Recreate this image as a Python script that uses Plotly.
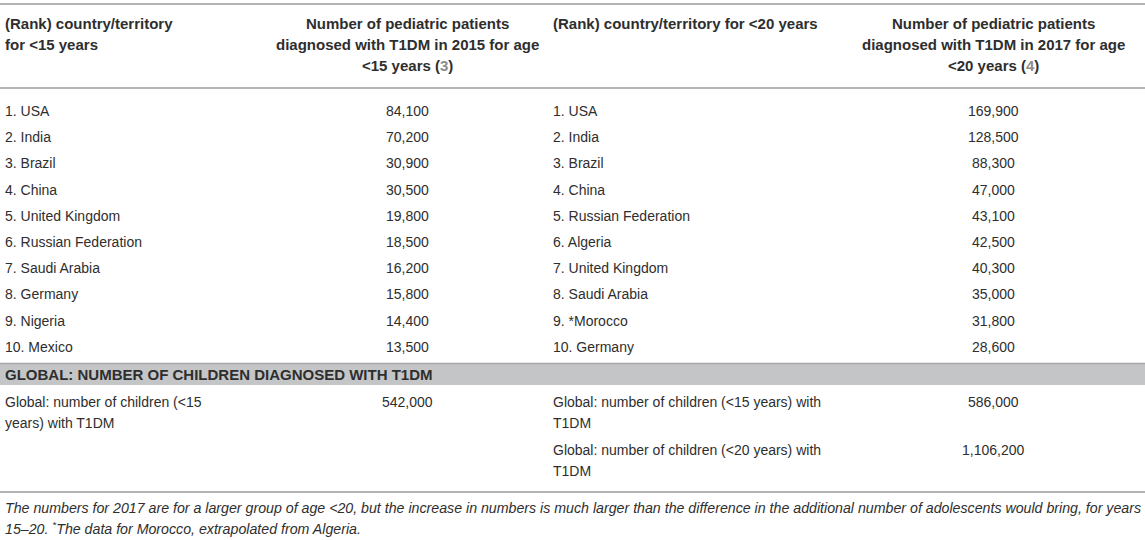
import plotly.graph_objects as go

# table data
countries_2015 = ["USA", "India", "Brazil", "China", "United Kingdom", "Russian Federation",
                  "Saudi Arabia", "Germany", "Nigeria", "Mexico"]
counts_2015 = [84100, 70200, 30900, 30500, 19800, 18500, 16200, 15800, 14400, 13500]

countries_2017 = ["USA", "India", "Brazil", "China", "Russian Federation", "Algeria",
                  "United Kingdom", "Saudi Arabia", "*Morocco", "Germany"]
counts_2017 = [169900, 128500, 88300, 47000, 43100, 42500, 40300, 35000, 31800, 28600]

header_left = ["(Rank) country/territory", "for &lt;15 years"]
header_num_left = ["Number of pediatric patients", "diagnosed with T1DM in 2015 for age",
                   "&lt;15 years (<span style='color:#8c8c8c'>3</span>)"]
header_right = ["(Rank) country/territory for &lt;20 years"]
header_num_right = ["Number of pediatric patients", "diagnosed with T1DM in 2017 for age",
                    "&lt;20 years (<span style='color:#8c8c8c'>4</span>)"]

band_title = "GLOBAL: NUMBER OF CHILDREN DIAGNOSED WITH T1DM"
global_left_label = ["Global: number of children (&lt;15", "years) with T1DM"]
global_left_value = 542000
global_right_labels = [["Global: number of children (&lt;15 years) with", "T1DM"],
                       ["Global: number of children (&lt;20 years) with", "T1DM"]]
global_right_values = [586000, 1106200]

footnote = ["The numbers for 2017 are for a larger group of age &lt;20, but the increase in numbers is much "
            "larger than the difference in the additional number of adolescents would bring, for years",
            "15–20. <sup>*</sup>The data for Morocco, extrapolated from Algeria."]

W, H = 1145, 540
TXT = "#2e2e2e"
LINE = "#b4b4b4"
x_c1, x_c2, x_c3, x_c4 = 4, 407, 552, 993

fig = go.Figure()
fig.add_trace(go.Scatter(x=[0, W], y=[0, H], mode="markers", marker=dict(opacity=0, size=1),
                         hoverinfo="skip", showlegend=False))

ann = []


def txt(x, y, s, anchor="left", bold=False, italic=False, size=14):
    if bold:
        s = "<b>" + s + "</b>"
    if italic:
        s = "<i>" + s + "</i>"
    ann.append(dict(x=x, y=y, xref="x", yref="y", text=s, showarrow=False,
                    xanchor=anchor, yanchor="middle", align=anchor, borderpad=0,
                    font=dict(size=size, color=TXT)))


# header
hy = [23, 44, 65]
for i, s in enumerate(header_left):
    txt(x_c1, hy[i], s, bold=True, size=15)
for i, s in enumerate(header_num_left):
    txt(x_c2, hy[i], s, anchor="center", bold=True, size=15)
for i, s in enumerate(header_right):
    txt(x_c3, hy[i], s, bold=True, size=15)
for i, s in enumerate(header_num_right):
    txt(x_c4, hy[i], s, anchor="center", bold=True, size=15)

# ranked rows
for i in range(len(countries_2015)):
    y = 111 + 26.2 * i
    txt(x_c1, y, f"{i + 1}. {countries_2015[i]}")
    txt(x_c2, y, f"{counts_2015[i]:,}", anchor="center")
    txt(x_c3, y, f"{i + 1}. {countries_2017[i]}")
    txt(x_c4, y, f"{counts_2017[i]:,}", anchor="center")

# global band and rows
txt(x_c1, 374, band_title, bold=True, size=15)
for j, s in enumerate(global_left_label):
    txt(x_c1, 402 + 21 * j, s)
txt(x_c2, 402, f"{global_left_value:,}", anchor="center")
for k, lab in enumerate(global_right_labels):
    y0 = 402 + 48 * k
    for j, s in enumerate(lab):
        txt(x_c3, y0 + 21 * j, s)
    txt(x_c4, y0, f"{global_right_values[k]:,}", anchor="center")

# footnote
for j, s in enumerate(footnote):
    txt(x_c1, 508 + 20 * j, s, italic=True, size=14.2)

shapes = [
    dict(type="rect", x0=0, x1=W, y0=363, y1=385, xref="x", yref="y",
         fillcolor="#c4c5c7", line=dict(width=0), layer="below"),
    dict(type="line", x0=0, x1=W, y0=363.5, y1=363.5, xref="x", yref="y",
         line=dict(color="#a8a8a8", width=1.5)),
]
for yl in [4, 88, 492]:
    shapes.append(dict(type="line", x0=0, x1=W, y0=yl, y1=yl, xref="x", yref="y",
                       line=dict(color=LINE, width=2)))

fig.update_layout(
    width=W, height=H,
    margin=dict(l=0, r=0, t=0, b=0),
    paper_bgcolor="white", plot_bgcolor="white",
    font=dict(family="Liberation Sans, Arial, sans-serif", size=14, color=TXT),
    xaxis=dict(range=[0, W], visible=False, fixedrange=True),
    yaxis=dict(range=[H, 0], visible=False, fixedrange=True),
    annotations=ann, shapes=shapes,
    showlegend=False,
)

fig.write_html("out.html", config={"displayModeBar": False},
               post_script="document.body.style.margin='0px';")
